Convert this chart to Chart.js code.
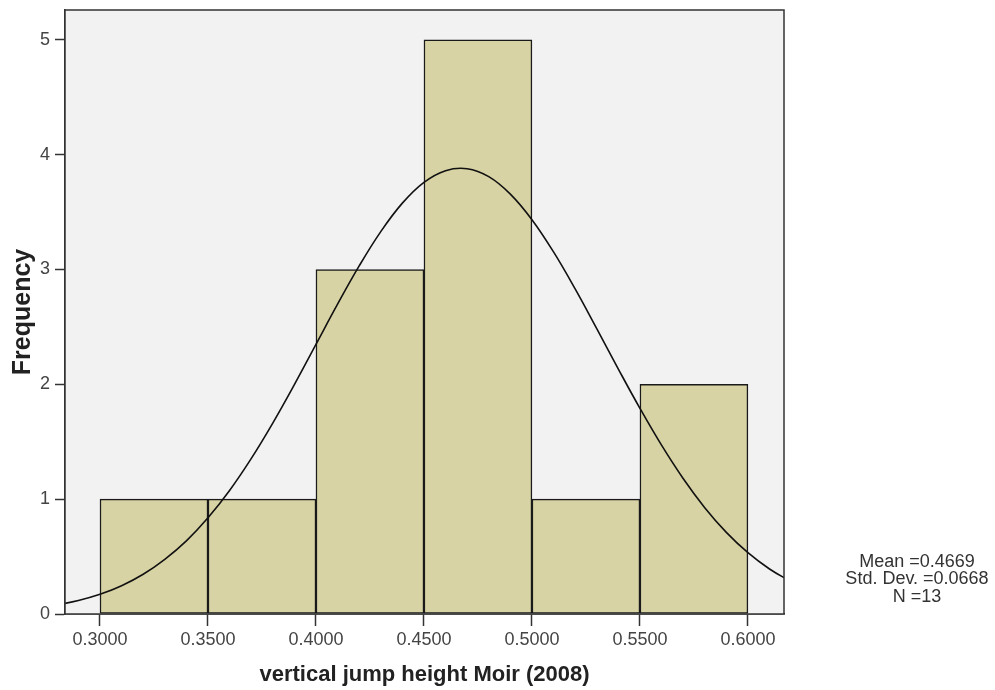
<!DOCTYPE html>
<html lang="en">
<head>
  <meta charset="UTF-8">
  <title>vertical jump height Moir (2008)</title>
  <script src="https://cdn.jsdelivr.net/npm/chart.js@4.4.0/dist/chart.umd.min.js"></script>
  <style>
    body { margin: 0; background: #fff; }
    #wrap { width: 995px; height: 690px; }
  </style>
</head>
<body>
  <div id="wrap"><canvas id="hist" width="995" height="690"></canvas></div>
  <script>
    // histogram bins (centres) and counts
    const binCenters = [0.325, 0.375, 0.425, 0.475, 0.525, 0.575];
    const frequencies = [1, 1, 3, 5, 1, 2];
    // normal curve
    const curveX = [0.28, 0.29, 0.30, 0.31, 0.32, 0.33, 0.34, 0.35, 0.36, 0.37, 0.38, 0.39, 0.40, 0.41, 0.42, 0.43, 0.44,
                    0.45, 0.46, 0.47, 0.48, 0.49, 0.50, 0.51, 0.52, 0.53, 0.54, 0.55, 0.56, 0.57, 0.58, 0.59, 0.60, 0.61, 0.62];
    const curveY = [0.078, 0.117, 0.171, 0.246, 0.346, 0.476, 0.637, 0.838, 1.076, 1.353, 1.663, 1.998, 2.348, 2.698, 3.031, 3.330, 3.578,
                    3.759, 3.861, 3.878, 3.809, 3.657, 3.434, 3.153, 2.831, 2.485, 2.133, 1.791, 1.470, 1.180, 0.926, 0.711, 0.534, 0.392, 0.281];
    const xTicks = [0.30, 0.35, 0.40, 0.45, 0.50, 0.55, 0.60];
    const yTicks = [0, 1, 2, 3, 4, 5];
    const statLines = ['Mean =0.4669', 'Std. Dev. =0.0668', 'N =13'];

    const FONT = '"Liberation Sans", Arial, sans-serif';

    const plotFrame = {
      id: 'plotFrame',
      beforeDatasetsDraw(chart) {
        const { ctx, chartArea: a } = chart;
        ctx.save();
        ctx.fillStyle = '#f2f2f2';
        ctx.fillRect(a.left, a.top, a.right - a.left, a.bottom - a.top);
        ctx.restore();
      },
      afterDraw(chart) {
        const { ctx, chartArea: a } = chart;
        ctx.save();
        ctx.strokeStyle = '#333';
        ctx.lineWidth = 1.5;
        ctx.strokeRect(a.left, a.top, a.right - a.left, a.bottom - a.top);
        // stats box
        ctx.fillStyle = '#333';
        ctx.font = '18px ' + FONT;
        ctx.textAlign = 'center';
        ctx.textBaseline = 'middle';
        statLines.forEach((t, i) => ctx.fillText(t, 917, 562 + i * 17.5));
        ctx.restore();
      }
    };

    new Chart(document.getElementById('hist'), {
      type: 'bar',
      data: {
        datasets: [
          {
            type: 'line',
            data: curveX.map((x, i) => ({ x: x, y: curveY[i] })),
            borderColor: '#111',
            borderWidth: 1.6,
            pointRadius: 0,
            tension: 0.4,
            fill: false,
            order: 0
          },
          {
            type: 'bar',
            data: binCenters.map((x, i) => ({ x: x, y: frequencies[i] })),
            backgroundColor: '#d8d3a4',
            borderColor: '#1a1a1a',
            borderWidth: 1.5,
            borderSkipped: false,
            barPercentage: 1,
            categoryPercentage: 1,
            order: 1
          }
        ]
      },
      options: {
        responsive: false,
        animation: false,
        layout: { padding: { top: 10, right: 211, bottom: 0, left: 0 } },
        plugins: { legend: { display: false }, tooltip: { enabled: false } },
        scales: {
          x: {
            type: 'linear',
            min: 0.2838,
            max: 0.6167,
            offset: false,
            afterFit(s) { s.height = 76; },
            afterBuildTicks(s) { s.ticks = xTicks.map(v => ({ value: v })); },
            grid: { display: true, drawOnChartArea: false, offset: false, tickLength: 12, tickColor: '#333', tickWidth: 1.5 },
            border: { display: true, color: '#333', width: 1.5 },
            ticks: {
              padding: 3,
              color: '#444',
              font: { family: FONT, size: 18 },
              maxRotation: 0,
              callback: v => v.toFixed(4)
            },
            title: {
              display: true,
              text: 'vertical jump height Moir (2008)',
              color: '#222',
              font: { family: FONT, size: 22, weight: 'bold' },
              padding: { top: 0, bottom: 2 }
            }
          },
          y: {
            min: 0,
            max: 5.26,
            afterFit(s) { s.width = 65; s.paddingTop = 0; s.paddingBottom = 0; },
            afterBuildTicks(s) { s.ticks = yTicks.map(v => ({ value: v })); },
            grid: { display: true, drawOnChartArea: false, tickLength: 10, tickColor: '#333', tickWidth: 1.5 },
            border: { display: true, color: '#333', width: 1.5 },
            ticks: {
              padding: 5,
              color: '#444',
              font: { family: FONT, size: 18 }
            },
            title: {
              display: true,
              text: 'Frequency',
              color: '#222',
              font: { family: FONT, size: 25, weight: 'bold' },
              padding: { top: 8, bottom: 0 }
            }
          }
        }
      },
      plugins: [plotFrame]
    });
  </script>
</body>
</html>
